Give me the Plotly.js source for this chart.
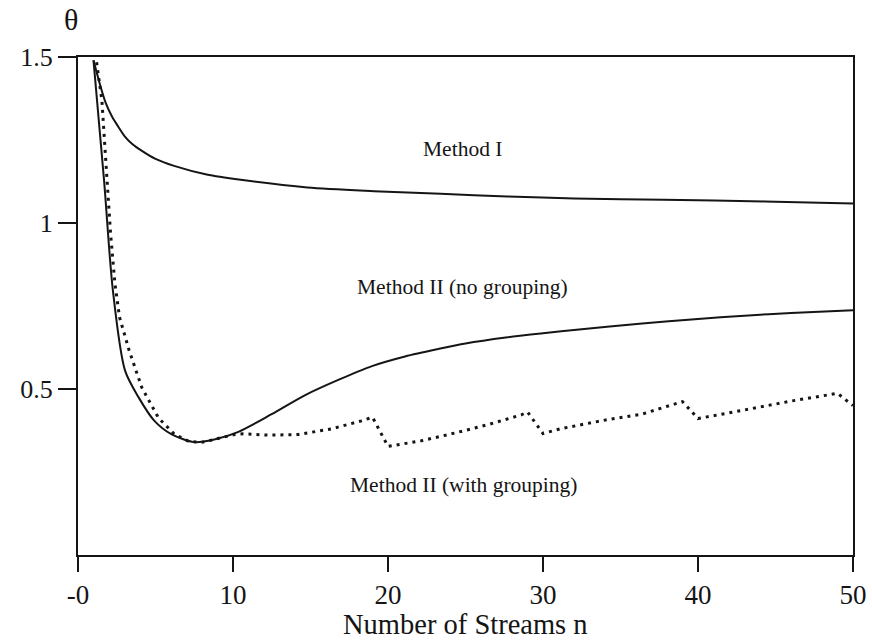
<!DOCTYPE html>
<html>
<head>
<meta charset="utf-8">
<script src="https://cdn.plot.ly/plotly-3.0.1.min.js"></script>
<style>
html,body{margin:0;padding:0;background:#fff;}
#chart{width:872px;height:643px;}
</style>
</head>
<body>
<div id="chart"></div>
<script>
// Method I
var methodI_n     = [1.0, 1.4, 1.8, 2.2, 2.6, 3.0, 3.5, 4.1, 5.0, 6.2, 8.3, 10.5, 14.8, 19.1, 23.4, 27.7, 32.0, 37.8, 44.3, 50];
var methodI_theta = [1.49, 1.42, 1.36, 1.32, 1.29, 1.262, 1.238, 1.218, 1.193, 1.172, 1.146, 1.130, 1.107, 1.096, 1.088, 1.080, 1.074, 1.070, 1.065, 1.059];

// Method II (no grouping)
var noGroup_n     = [1.0, 1.68, 2.25, 3.03, 3.92, 4.93, 6.02, 7.5, 8.79, 10.35, 12.49, 14.63, 16.83, 18.97, 21.1, 23.3, 25.0, 27.6, 30.0, 32.0, 36.4, 40.0, 43.0, 46.0, 50];
var noGroup_theta = [1.49, 1.129, 0.797, 0.556, 0.474, 0.404, 0.364, 0.340, 0.348, 0.371, 0.424, 0.481, 0.528, 0.569, 0.598, 0.621, 0.637, 0.655, 0.668, 0.678, 0.697, 0.711, 0.721, 0.729, 0.737];

// Method II (with grouping)
var withGroup_n     = [1.2, 1.54, 1.82, 2.1, 2.38, 2.68, 3.3, 4.12, 5.19, 6.21, 7.11, 7.95, 8.79, 10.0, 10.67, 12.28, 14.21, 16.35, 18.29, 19, 20, 22.15, 24.28, 26.48, 28.6, 29, 30, 31.19, 34.2, 36.36, 39, 40, 42.8, 46.05, 49, 50];
var withGroup_theta = [1.484, 1.37, 1.168, 0.969, 0.818, 0.716, 0.616, 0.504, 0.413, 0.364, 0.343, 0.339, 0.348, 0.362, 0.365, 0.361, 0.363, 0.380, 0.404, 0.415, 0.327, 0.344, 0.367, 0.393, 0.422, 0.431, 0.366, 0.381, 0.408, 0.424, 0.462, 0.411, 0.435, 0.464, 0.487, 0.450];

// Axis ticks
var xTickVals = [0, 10, 20, 30, 40, 50];
var xTickText = ["-0", "10", "20", "30", "40", "50"];
var yTickVals = [0.5, 1, 1.5];
var yTickText = ["0.5", "1", "1.5"];
var xTitle = "Number of Streams n";
var yTitle = "θ";

// Curve labels
var labelText  = ["Method I", "Method II (no grouping)", "Method II (with grouping)"];
var labelN     = [24.8, 24.8, 24.9];
var labelTheta = [1.222, 0.808, 0.21];

var serif = "Liberation Serif, Times New Roman, serif";
var ink = "#151515";

var traces = [
  {x: methodI_n, y: methodI_theta, mode: "lines", name: "Method I",
   line: {color: ink, width: 2, shape: "spline", smoothing: 0.8}},
  {x: noGroup_n, y: noGroup_theta, mode: "lines", name: "Method II (no grouping)",
   line: {color: ink, width: 2, shape: "spline", smoothing: 0.8}},
  {x: withGroup_n, y: withGroup_theta, mode: "lines", name: "Method II (with grouping)",
   line: {color: ink, width: 3, dash: "3px,5px"}}
];

var annotations = labelText.map(function(t, i){
  return {text: t, x: labelN[i], y: labelTheta[i], xref: "x", yref: "y",
          showarrow: false, xanchor: "center", yanchor: "middle",
          font: {family: serif, size: 21.5, color: ink}};
});
annotations.push({text: yTitle, xref: "paper", yref: "paper", x: -0.009, y: 1.075,
  showarrow: false, xanchor: "center", yanchor: "middle",
  font: {family: serif, size: 30, color: ink}});
annotations.push({text: xTitle, xref: "paper", yref: "paper", x: 0.5, y: -0.14,
  showarrow: false, xanchor: "center", yanchor: "middle",
  font: {family: serif, size: 28.5, color: ink}});

var layout = {
  width: 872, height: 643,
  margin: {l: 78, r: 19, t: 57, b: 88, pad: 0},
  paper_bgcolor: "#fff", plot_bgcolor: "#fff",
  showlegend: false,
  xaxis: {
    range: [0, 50], showgrid: false, zeroline: false,
    showline: true, mirror: true, linecolor: ink, linewidth: 2,
    ticks: "outside", ticklen: 15, tickwidth: 2, tickcolor: ink,
    tickvals: xTickVals, ticktext: xTickText,
    tickfont: {family: serif, size: 27, color: ink}
  },
  yaxis: {
    range: [0, 1.5], showgrid: false, zeroline: false,
    showline: true, mirror: true, linecolor: ink, linewidth: 2,
    ticks: "outside", ticklen: 18, tickwidth: 2, tickcolor: ink,
    tickvals: yTickVals, ticktext: yTickText,
    tickfont: {family: serif, size: 26, color: ink}
  },
  annotations: annotations
};

Plotly.newPlot("chart", traces, layout, {displayModeBar: false, staticPlot: true});
</script>
</body>
</html>
